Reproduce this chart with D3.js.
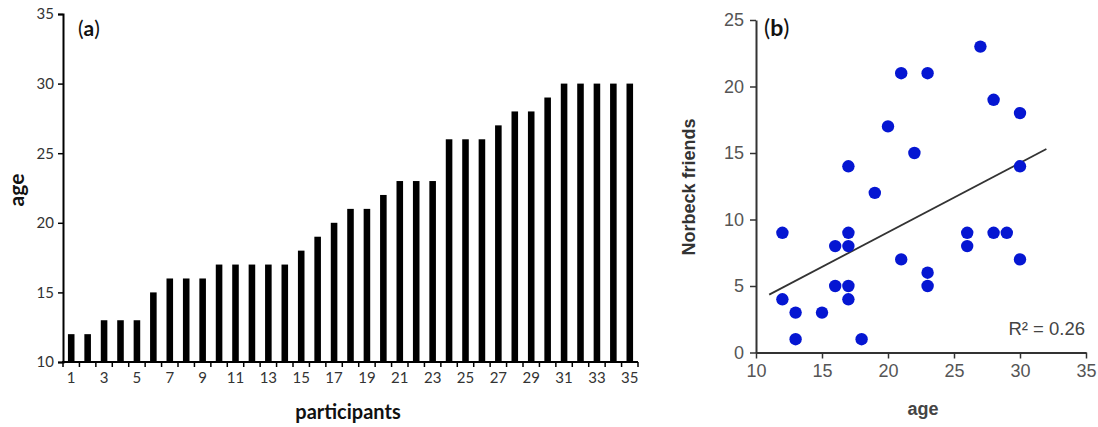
<!DOCTYPE html>
<html><head><meta charset="utf-8">
<script src="https://cdn.jsdelivr.net/npm/d3@7"></script>
<style>body{margin:0;background:#fff}svg{display:block}</style>
</head><body>
<svg id="c" width="1098" height="427"></svg>
<script>
// Panel (a): ages of participants (sorted)
const participants = d3.range(1, 36);
const ages = [12,12,13,13,13,15,16,16,16,17,17,17,17,17,18,19,20,21,21,22,23,23,23,26,26,26,27,28,28,29,30,30,30,30,30];
const ageTicksA = [10,15,20,25,30,35];

// Panel (b): age vs Norbeck friends
const ptAge =     [12,12,13,13,15,16,16,17,17,17,17,17,18,19,20,21,21,22,23,23,23,26,26,27,28,28,29,30,30,30];
const ptFriends = [ 9, 4, 3, 1, 3, 8, 5,14, 9, 8, 5, 4, 1,12,17,21, 7,15,21, 6, 5, 9, 8,23,19, 9, 9,18,14, 7];
const trendAge = [11, 32];
const trendFriends = [4.35, 15.3];
const xTicksB = [10,15,20,25,30,35];
const yTicksB = [0,5,10,15,20,25];
const r2Label = "R² = 0.26";

const svg = d3.select("#c");
const calib = "Lato, 'Open Sans', sans-serif";
const arial = "'Liberation Sans', Arial, sans-serif";

// ---------- Panel (a) ----------
{
  const g = svg.append("g");
  const x = d3.scaleBand().domain(participants).range([63, 638]).paddingInner(0.6).paddingOuter(0.3);
  const y = d3.scaleLinear().domain([10, 35]).range([362, 14]);

  g.selectAll("rect.bar").data(participants).join("rect")
    .attr("x", d => x(d)).attr("width", x.bandwidth())
    .attr("y", (d,i) => y(ages[i])).attr("height", (d,i) => y(10) - y(ages[i]))
    .attr("fill", "#000");

  const yAx = g.append("g").attr("transform", "translate(63,0)")
    .call(d3.axisLeft(y).tickValues(ageTicksA).tickSize(5).tickPadding(4));
  yAx.select(".domain").attr("stroke", "#000").attr("stroke-width", 2);
  yAx.selectAll(".tick line").attr("stroke", "#000").attr("stroke-width", 1.5);
  yAx.selectAll("text").attr("font-family", calib).attr("font-size", 15).attr("fill", "#333");

  g.append("line").attr("x1", 62).attr("x2", 638).attr("y1", 362).attr("y2", 362)
    .attr("stroke", "#000").attr("stroke-width", 2);
  const bounds = d3.range(0, participants.length + 1).map(i => 63 + i * (575 / participants.length));
  g.selectAll("line.xt").data(bounds).join("line")
    .attr("x1", d => d).attr("x2", d => d).attr("y1", 362).attr("y2", 367)
    .attr("stroke", "#000").attr("stroke-width", 1.5);
  g.selectAll("text.xl").data(participants.filter(d => d % 2 === 1)).join("text")
    .attr("x", d => x(d) + x.bandwidth() / 2).attr("y", 383)
    .attr("text-anchor", "middle").attr("font-family", calib).attr("font-size", 15).attr("fill", "#333")
    .text(d => d);

  g.append("text").attr("x", 348).attr("y", 419).attr("text-anchor", "middle")
    .attr("font-family", calib).attr("font-weight", "bold").attr("font-size", 20).attr("fill", "#111")
    .text("participants");
  g.append("text").attr("transform", "translate(24,190) rotate(-90)").attr("text-anchor", "middle")
    .attr("font-family", calib).attr("font-weight", "bold").attr("font-size", 21).attr("fill", "#111")
    .text("age");
  const t = g.append("text").attr("x", 78).attr("y", 36).attr("font-family", calib).attr("font-size", 21).attr("fill", "#111");
  t.append("tspan").text("(");
  t.append("tspan").attr("font-weight", "bold").text("a");
  t.append("tspan").text(")");
}

// ---------- Panel (b) ----------
{
  const g = svg.append("g");
  const x = d3.scaleLinear().domain([10, 35]).range([756, 1086]);
  const y = d3.scaleLinear().domain([0, 25]).range([352.5, 20]);

  const xAx = g.append("g").attr("transform", "translate(0,352.5)")
    .call(d3.axisBottom(x).tickValues(xTicksB).tickSize(6).tickSizeOuter(0).tickPadding(6));
  xAx.select(".domain").attr("stroke", "#333").attr("stroke-width", 2);
  xAx.selectAll(".tick line").attr("stroke", "#333").attr("stroke-width", 1.5);
  xAx.selectAll("text").attr("font-family", arial).attr("font-size", 18).attr("fill", "#555");

  const yAx = g.append("g").attr("transform", "translate(756,0)")
    .call(d3.axisLeft(y).tickValues(yTicksB).tickSize(6).tickSizeOuter(0).tickPadding(6));
  yAx.select(".domain").attr("stroke", "#333").attr("stroke-width", 2);
  yAx.selectAll(".tick line").attr("stroke", "#333").attr("stroke-width", 1.5);
  yAx.selectAll("text").attr("font-family", arial).attr("font-size", 18).attr("fill", "#555");

  g.append("line")
    .attr("x1", x(trendAge[0])).attr("y1", y(trendFriends[0]))
    .attr("x2", x(trendAge[1])).attr("y2", y(trendFriends[1]))
    .attr("stroke", "#333").attr("stroke-width", 1.8);

  g.selectAll("circle").data(ptAge).join("circle")
    .attr("cx", d => x(d)).attr("cy", (d,i) => y(ptFriends[i])).attr("r", 6.2)
    .attr("fill", "#0516d2");

  g.append("text").attr("x", 1085).attr("y", 335).attr("text-anchor", "end")
    .attr("font-family", arial).attr("font-size", 18.5).attr("fill", "#444").text(r2Label);

  g.append("text").attr("x", 923).attr("y", 415).attr("text-anchor", "middle")
    .attr("font-family", arial).attr("font-weight", "bold").attr("font-size", 18).attr("fill", "#444")
    .text("age");
  g.append("text").attr("transform", "translate(695,187) rotate(-90)").attr("text-anchor", "middle")
    .attr("font-family", arial).attr("font-weight", "bold").attr("font-size", 18).attr("fill", "#333")
    .text("Norbeck friends");
  const t = g.append("text").attr("x", 764).attr("y", 36).attr("font-family", calib).attr("font-size", 23).attr("fill", "#111");
  t.append("tspan").text("(");
  t.append("tspan").attr("font-weight", "bold").text("b");
  t.append("tspan").text(")");
}
</script>
</body></html>
